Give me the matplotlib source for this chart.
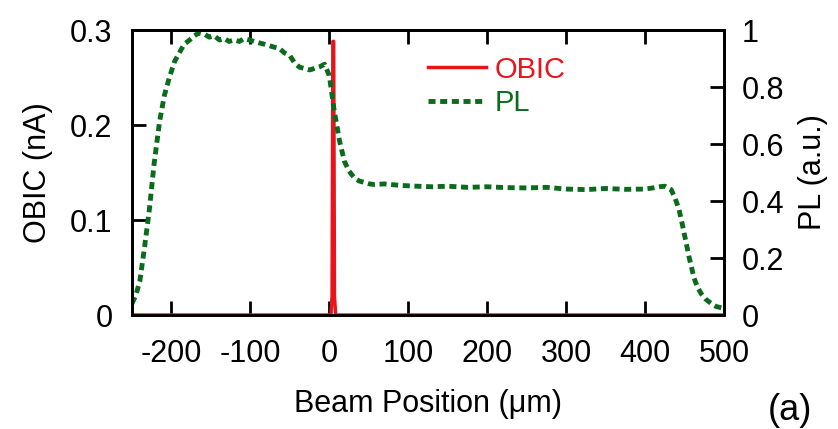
import matplotlib
matplotlib.use("Agg")
import matplotlib.pyplot as plt
from matplotlib.ticker import FuncFormatter

plt.rcParams['font.family'] = ['Liberation Sans', 'DejaVu Sans']

# OBIC (nA) vs beam position (um)
obic_x = [-250, 2.0, 3.5, 4.5, 5.5, 6.5, 8.0, 500]
obic_y = [0, 0, 0.02, 0.288, 0.288, 0.02, 0, 0]

# PL (a.u.) vs beam position (um)
pl_x = [-250, -245, -240, -234, -228, -222, -215, -209, -203, -196, -190, -184, -177,
        -171, -165, -158, -152, -146, -139, -133, -127, -120, -114, -108, -101, -95,
        -89, -82, -76, -70, -63, -57, -50, -44, -38, -32, -25, -19, -13, -6, 0,
        6, 13, 19, 25, 32, 38, 45, 51, 57, 70, 89, 110, 130, 150, 175, 200, 225,
        250, 275, 300, 325, 350, 375, 400, 410, 418, 425, 433, 438, 443, 447, 450,
        453, 456, 459, 462, 466, 471, 477, 484, 490, 497]
pl_y = [0.04, 0.07, 0.12, 0.24, 0.37, 0.53, 0.68, 0.77, 0.83, 0.89, 0.92, 0.95, 0.965,
        0.98, 0.99, 0.985, 0.975, 0.98, 0.965, 0.97, 0.96, 0.965, 0.96, 0.97, 0.965, 0.96,
        0.955, 0.95, 0.945, 0.94, 0.935, 0.92, 0.91, 0.885, 0.87, 0.865, 0.86, 0.865, 0.87, 0.88, 0.84,
        0.72, 0.61, 0.54, 0.505, 0.48, 0.47, 0.465, 0.46, 0.458, 0.46, 0.455, 0.452, 0.45,
        0.452, 0.448, 0.45, 0.447, 0.446, 0.448, 0.442, 0.44, 0.444, 0.441, 0.442, 0.446,
        0.45, 0.452, 0.44, 0.41, 0.37, 0.32, 0.28, 0.24, 0.2, 0.165, 0.13, 0.1, 0.075,
        0.055, 0.04, 0.03, 0.025]

x_ticks = [-200, -100, 0, 100, 200, 300, 400, 500]
y_left_ticks = [0, 0.1, 0.2, 0.3]
y_right_ticks = [0, 0.2, 0.4, 0.6, 0.8, 1]

fig = plt.figure(figsize=(8.38, 4.29), dpi=100)
ax = fig.add_axes([0.1575, 0.2657, 0.7065, 0.6643])
ax2 = ax.twinx()

red = '#e8141c'
green = '#0b6b1c'

l1, = ax.plot(obic_x, obic_y, color=red, lw=2.5, label='OBIC', zorder=3)
l2, = ax2.plot(pl_x, pl_y, color=green, lw=3.5, ls=(0, (1.45, 0.95)), label='PL')

ax.set_xlim(-250, 500)
ax.set_ylim(0, 0.3)
ax2.set_ylim(0, 1)

ax.set_xticks(x_ticks)
ax.set_yticks(y_left_ticks)
ax2.set_yticks(y_right_ticks)

def fmt(v, pos):
    return f"{v:g}"
ax.xaxis.set_major_formatter(FuncFormatter(fmt))
ax.yaxis.set_major_formatter(FuncFormatter(fmt))
ax2.yaxis.set_major_formatter(FuncFormatter(fmt))

for a in (ax, ax2):
    for s in a.spines.values():
        s.set_linewidth(2)
ax.tick_params(axis='x', direction='in', length=10, width=2, top=True, labelsize=22, pad=17)
ax.tick_params(axis='y', direction='in', length=10, width=2, labelsize=22, pad=14)
ax2.tick_params(axis='y', direction='in', length=10, width=2, labelsize=22, pad=13)

ax.set_xlabel('Beam Position (\u03bcm)', fontsize=22, labelpad=15)
ax.set_ylabel('OBIC (nA)', fontsize=22, labelpad=12)
ax2.set_ylabel('PL (a.u.)', fontsize=22, labelpad=10)

leg = ax.legend([l1, l2], ['OBIC', 'PL'], loc='upper left', bbox_to_anchor=(0.5, 0.91),
                frameon=False, fontsize=21, handlelength=2.0, handletextpad=0.3,
                labelspacing=0.18, borderpad=0, borderaxespad=0)
for t, c in zip(leg.get_texts(), [red, green]):
    t.set_color(c)

fig.text(0.916, 0.022, '(a)', fontsize=26, va='baseline')

fig.savefig('out.png', dpi=100)
